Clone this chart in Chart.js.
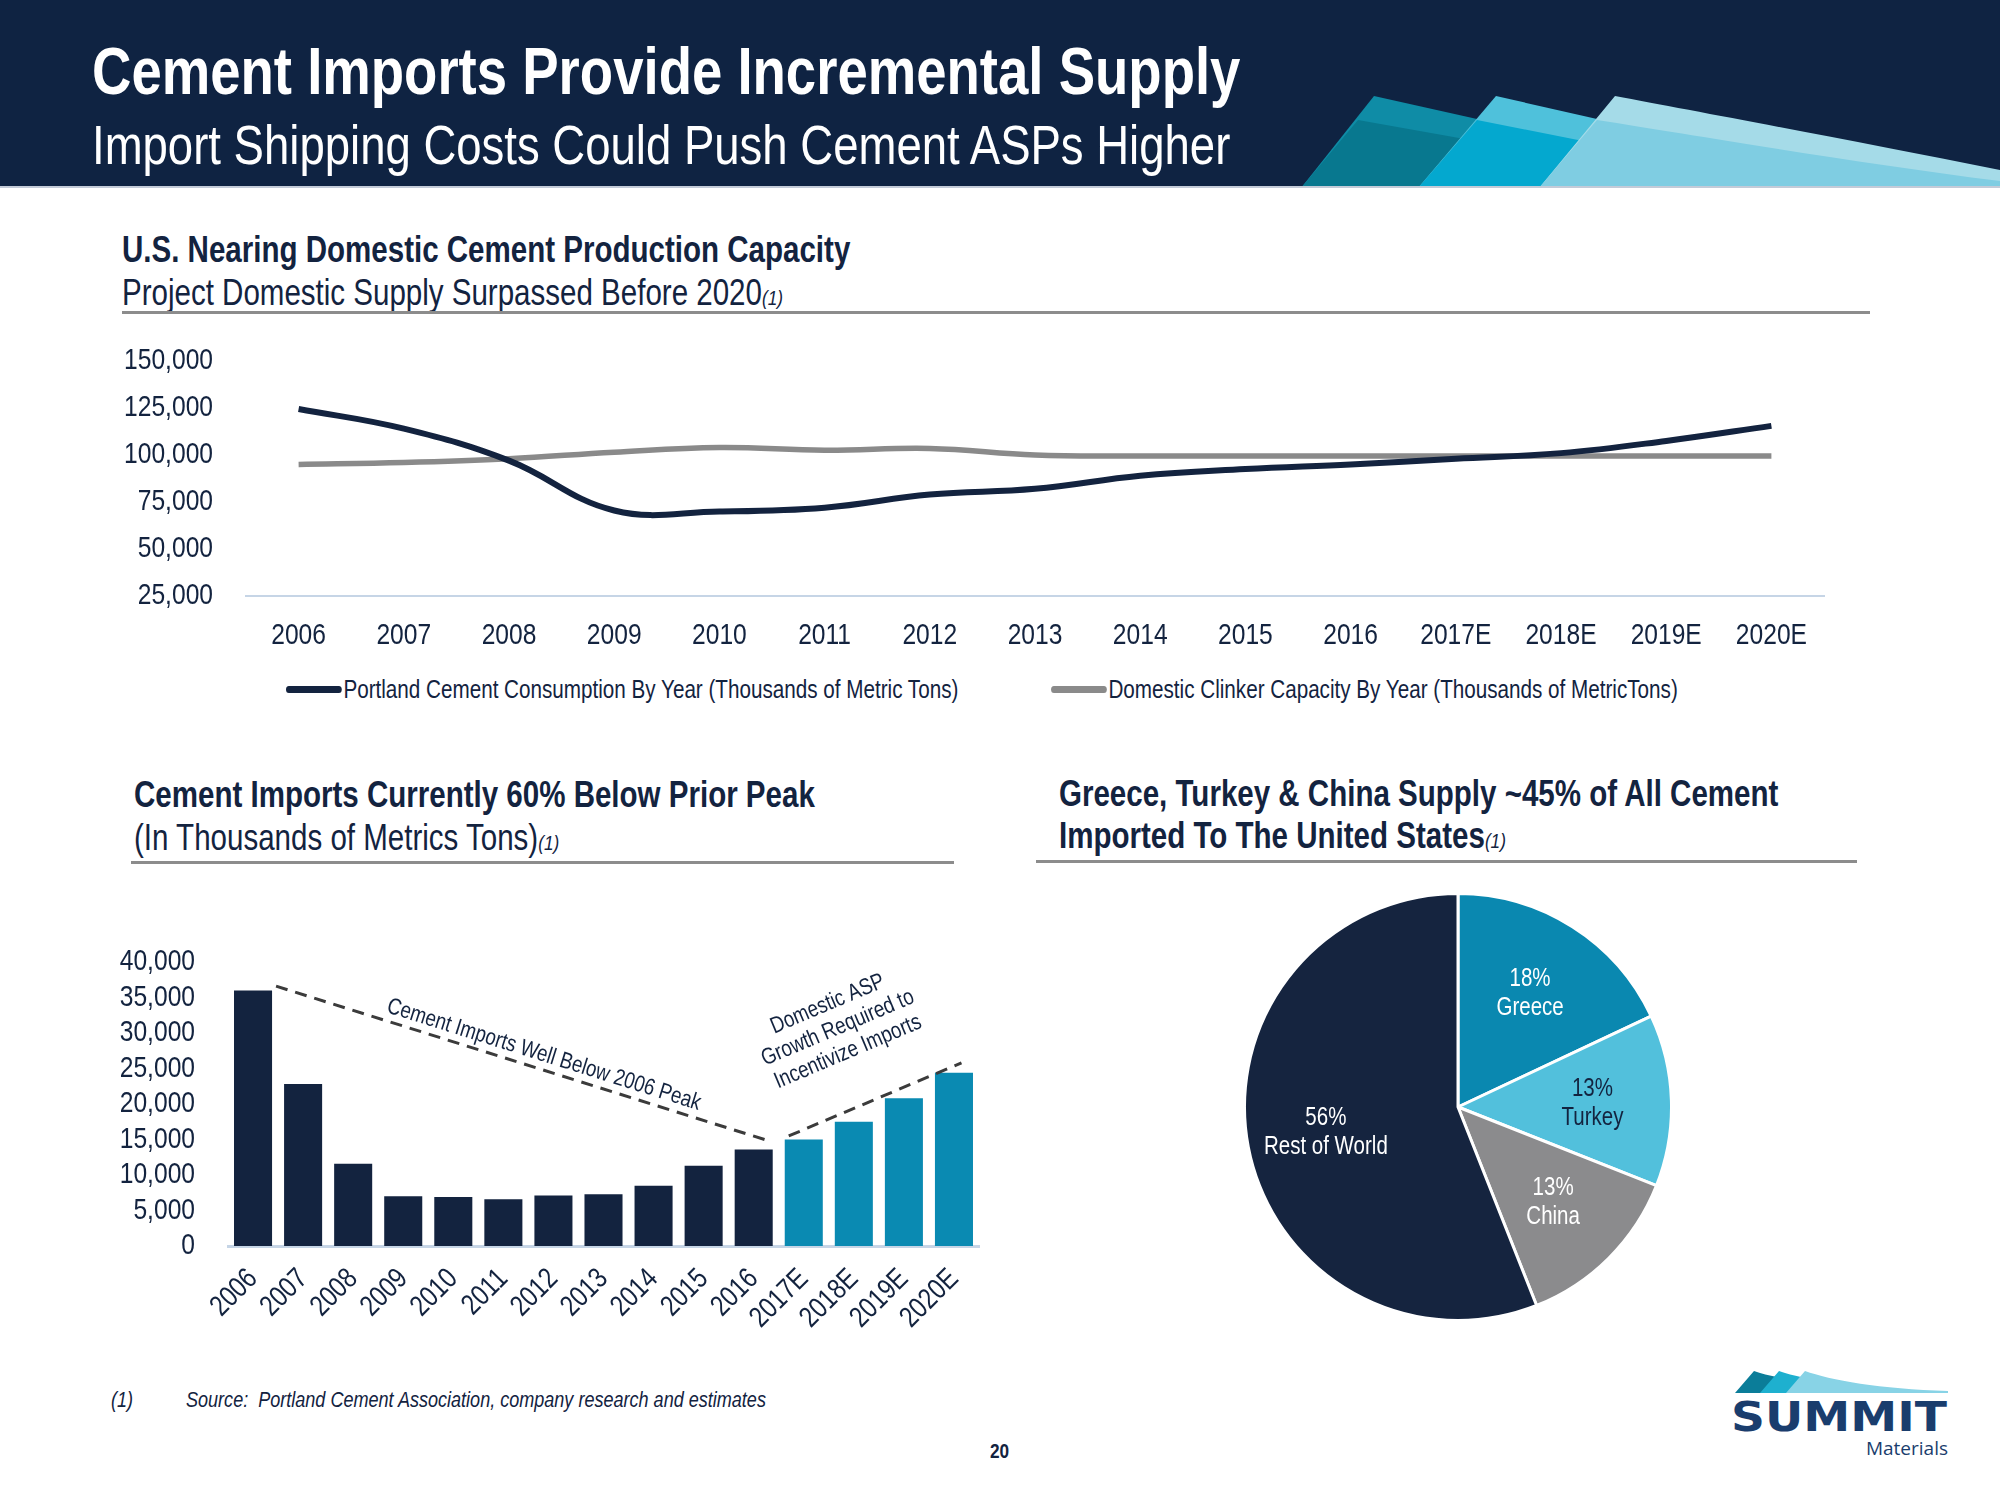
<!DOCTYPE html>
<html lang="en">
<head>
<meta charset="UTF-8">
<title>Cement Imports Provide Incremental Supply</title>
<script src="https://cdn.jsdelivr.net/npm/chart.js@4"></script>
<style>
  body {
    margin: 0;
    width: 2000px;
    height: 1500px;
    position: relative;
    overflow: hidden;
    background: #fff;
    font-family: "Liberation Sans", Arial, sans-serif;
    color: #13233f;
  }
  .abs { position: absolute; line-height: 1; white-space: nowrap; }
  /* no Arial Narrow installed: squeeze Liberation Sans to the same width */
  .nar { transform: scaleX(0.82); transform-origin: 0 0; }
  .header { position: absolute; left: 0; top: 0; width: 2000px; height: 188px; background: #0f2342; }
  .title { left: 92px; top: 38px; font-size: 66.5px; font-weight: bold; color: #fff; }
  .subtitle { left: 92px; top: 118px; font-size: 55.5px; color: #fff; }
  .sec-title { font-size: 36px; font-weight: bold; }
  .sec-sub { font-size: 36px; }
  .fn { font-size: 21px; font-style: italic; font-weight: normal; }
  .rule { position: absolute; height: 3px; background: #8c8c8c; }
  .box { position: absolute; }
  #lineLegend { position: absolute; left: 286px; top: 677px; display: flex; align-items: center; gap: 113px; font-size: 25.2px; line-height: 1; white-space: nowrap; transform: scaleX(0.82); transform-origin: 0 0; }
  #lineLegend .item { display: flex; align-items: center; }
  #lineLegend .swatch { display: inline-block; width: 68px; height: 7px; border-radius: 4px; margin-right: 2px; }
  .note { font-size: 22px; font-style: italic; }
</style>
</head>
<body>
  <div class="header"></div>
  <svg class="abs" style="left:0;top:0" width="2000" height="190">
    <path d="M1301,188 L1374,96 L1477,119 L1650,165 L1650,188 Z" fill="#0f8ca6"/>
    <path d="M1301,188 L1358,120 L1459,138 L1650,180 L1650,188 Z" fill="#08788f"/>
    <path d="M1418,188 L1496,96 L1597,119 L1760,160 L1760,188 Z" fill="#4fc1db"/>
    <path d="M1418,188 L1477,120 L1578,140 L1760,178 L1760,188 Z" fill="#04a8cf"/>
    <path d="M1539,188 L1615,96 C1700,112 1850,140 2000,170 L2000,188 Z" fill="#a5dbe8"/>
    <path d="M1539,188 L1597,120 C1700,136 1850,162 2000,181 L2000,188 Z" fill="#7fcde2"/>
    <rect x="0" y="186" width="2000" height="2" fill="#c3cbd8"/>
  </svg>
  <div class="abs nar title">Cement Imports Provide Incremental Supply</div>
  <div class="abs nar subtitle">Import Shipping Costs Could Push Cement ASPs Higher</div>

  <div class="abs nar sec-title" style="left:122px;top:232px">U.S. Nearing Domestic Cement Production Capacity</div>
  <div class="abs nar sec-sub" style="left:122px;top:275px">Project Domestic Supply Surpassed Before 2020<span class="fn">(1)</span></div>
  <div class="rule" style="left:122px;top:311px;width:1748px"></div>

  <div class="box" style="left:100px;top:310px;width:1780px;height:350px"><canvas id="lineChart"></canvas></div>
  <div id="lineLegend"></div>

  <div class="abs nar sec-title" style="left:134px;top:777px">Cement Imports Currently 60% Below Prior Peak</div>
  <div class="abs nar sec-sub" style="left:134px;top:820px">(In Thousands of Metrics Tons)<span class="fn">(1)</span></div>
  <div class="rule" style="left:131px;top:861px;width:823px"></div>

  <div class="abs nar sec-title" style="left:1059px;top:776px">Greece, Turkey &amp; China Supply ~45% of All Cement</div>
  <div class="abs nar sec-title" style="left:1059px;top:818px">Imported To The United States<span class="fn">(1)</span></div>
  <div class="rule" style="left:1036px;top:860px;width:821px"></div>

  <div class="box" style="left:80px;top:911px;width:920px;height:459px"><canvas id="barChart"></canvas></div>
  <div class="box" style="left:1243px;top:892px;width:430px;height:430px"><canvas id="pieChart"></canvas></div>

  <div class="abs nar note" style="left:111px;top:1389px">(1)</div>
  <div class="abs nar note" style="left:186px;top:1389px">Source:&nbsp; Portland Cement Association, company research and estimates</div>
  <div class="abs nar" style="left:990px;top:1440px;font-size:21px;font-weight:bold">20</div>

  <svg class="abs" style="left:1720px;top:1360px" width="240" height="40">
    <path d="M15,33 L34,11 C60,20 120,30 228,33 Z" fill="#0b7d99"/>
    <path d="M40,33 L59,11 C85,20 140,30 228,33 Z" fill="#1eb0cf"/>
    <path d="M66,33 L85,11 C110,20 160,29 228,31 L228,33 Z" fill="#88d3e6"/>
  </svg>
  <div class="abs" style="left:1731px;top:1397px;font-family:'DejaVu Sans',sans-serif;font-weight:bold;font-size:40px;color:#1a3d6d;transform:scaleX(1.18);transform-origin:left top">SUMMIT</div>
  <div class="abs" style="right:52px;top:1439px;font-family:'Open Sans',sans-serif;font-size:19px;color:#1a3d6d">Materials</div>

<script>
  const years = ['2006', '2007', '2008', '2009', '2010', '2011', '2012', '2013', '2014', '2015', '2016', '2017E', '2018E', '2019E', '2020E'];
  const consumption = [124500, 114000, 97000, 70500, 70000, 72000, 79000, 82000, 89000, 92500, 95000, 98000, 101000, 107500, 115500];
  const clinkerCapacity = [95000, 96000, 98000, 101500, 104000, 102500, 103500, 100000, 99500, 99500, 99500, 99500, 99500, 99500, 99500];
  const lineLabels = ['Portland Cement Consumption By Year (Thousands of Metric Tons)', 'Domestic Clinker Capacity By Year (Thousands of MetricTons)'];

  const cementImports = [36000, 22800, 11600, 7000, 6900, 6600, 7100, 7300, 8500, 11300, 13600, 15000, 17500, 20800, 24400];

  // dashed trend annotations, in data units: [category index, value]
  const trendLines = [[[0.46, 36600], [10.35, 14700]], [[10.7, 15500], [14.15, 25800]]];
  const trendNotes = [
    { text: ['Cement Imports Well Below 2006 Peak'], at: [5.81, 26900] },
    { text: ['Domestic ASP', 'Growth Required to', 'Incentivize Imports'], at: [11.68, 30700] }
  ];

  const supplyLabels = ['Greece', 'Turkey', 'China', 'Rest of World'];
  const supplyShares = [18, 13, 13, 56];

  const NAVY = '#13233f';
  const TEAL = '#0a8ab2';
  const FONT = '"Liberation Sans", Arial, sans-serif';
  const lineColors = [NAVY, '#8a8a8a'];
  const pieColors = ['#0a88b0', '#52c0dc', '#8b8b8d', '#15243f'];
  const pieTextColors = ['#ffffff', NAVY, '#ffffff', '#ffffff'];

  // canvas text gets the same narrow squeeze as the html text
  const NARROW = 0.82;
  const baseFillText = CanvasRenderingContext2D.prototype.fillText;
  CanvasRenderingContext2D.prototype.fillText = function (text, x, y) {
    this.save();
    this.translate(x, y);
    this.scale(NARROW, 1);
    baseFillText.call(this, text, 0, 0);
    this.restore();
  };

  Chart.defaults.font.family = FONT;
  Chart.defaults.color = NAVY;

  // line chart
  new Chart(document.getElementById('lineChart'), {
    type: 'line',
    data: {
      labels: years,
      datasets: [
        { label: lineLabels[0], data: consumption, borderColor: lineColors[0], borderWidth: 6, pointRadius: 0, tension: 0.4 },
        { label: lineLabels[1], data: clinkerCapacity, borderColor: lineColors[1], borderWidth: 5.5, pointRadius: 0, tension: 0.4 }
      ]
    },
    options: {
      responsive: true,
      maintainAspectRatio: false,
      animation: false,
      layout: { padding: { top: 0, right: 56, left: 0, bottom: 0 } },
      plugins: { legend: { display: false }, tooltip: { enabled: false } },
      scales: {
        x: {
          offset: true,
          grid: { display: false, drawTicks: false },
          border: { display: true, color: '#c6d5e6', width: 2 },
          ticks: { font: { size: 30 }, padding: 22, maxRotation: 0, autoSkip: false },
          afterFit: s => { s.height = 64; }
        },
        y: {
          min: 25000,
          max: 150000,
          grid: { display: false, drawTicks: false },
          border: { display: false },
          ticks: { stepSize: 25000, font: { size: 30 }, padding: 33, autoSkip: false },
          afterFit: s => { s.width = 146; }
        }
      }
    }
  });

  // html legend for the line chart
  const legendEl = document.getElementById('lineLegend');
  lineLabels.forEach((txt, i) => {
    const item = document.createElement('div');
    item.className = 'item';
    item.innerHTML = '<span class="swatch" style="background:' + lineColors[i] + '"></span><span>' + txt + '</span>';
    legendEl.appendChild(item);
  });

  const trendPlugin = {
    id: 'trendNotes',
    afterDatasetsDraw(chart) {
      const { ctx, scales: { x, y } } = chart;
      const px = trendLines.map(seg => seg.map(([i, v]) => [x.getPixelForValue(i), y.getPixelForValue(v)]));
      ctx.save();
      ctx.strokeStyle = '#3b3b3b';
      ctx.lineWidth = 3;
      ctx.setLineDash([12, 8]);
      px.forEach(seg => {
        ctx.beginPath();
        ctx.moveTo(seg[0][0], seg[0][1]);
        ctx.lineTo(seg[1][0], seg[1][1]);
        ctx.stroke();
      });
      ctx.setLineDash([]);
      ctx.fillStyle = NAVY;
      ctx.font = '23px ' + FONT;
      ctx.textAlign = 'center';
      ctx.textBaseline = 'middle';
      trendNotes.forEach((note, k) => {
        const seg = px[k];
        const ang = Math.atan2(seg[1][1] - seg[0][1], seg[1][0] - seg[0][0]);
        ctx.save();
        ctx.translate(x.getPixelForValue(note.at[0]), y.getPixelForValue(note.at[1]));
        ctx.rotate(ang);
        note.text.forEach((t, j) => ctx.fillText(t, 0, (j - (note.text.length - 1) / 2) * 26));
        ctx.restore();
      });
      ctx.restore();
    }
  };

  // bar chart
  new Chart(document.getElementById('barChart'), {
    type: 'bar',
    data: {
      labels: years,
      datasets: [{
        data: cementImports,
        backgroundColor: years.map(y => y.endsWith('E') ? TEAL : NAVY),
        barPercentage: 0.76,
        categoryPercentage: 1.0
      }]
    },
    options: {
      responsive: true,
      maintainAspectRatio: false,
      animation: false,
      layout: { padding: { top: 0, right: 21, left: 0, bottom: 0 } },
      plugins: { legend: { display: false }, tooltip: { enabled: false } },
      scales: {
        x: {
          grid: { display: false, drawTicks: false },
          border: { display: true, color: '#c6d5e6', width: 3 },
          ticks: { font: { size: 29 }, padding: 16, minRotation: 45, maxRotation: 45, autoSkip: false },
          afterFit: s => { s.height = 124; }
        },
        y: {
          min: 0,
          max: 40000,
          grid: { display: false, drawTicks: false },
          border: { display: false },
          ticks: { stepSize: 5000, font: { size: 30 }, padding: 33, autoSkip: false },
          afterFit: s => { s.width = 148; }
        }
      }
    },
    plugins: [trendPlugin]
  });

  const pieLabelPlugin = {
    id: 'pieLabels',
    afterDatasetsDraw(chart) {
      const { ctx } = chart;
      const meta = chart.getDatasetMeta(0);
      ctx.save();
      ctx.font = '25px ' + FONT;
      ctx.textAlign = 'center';
      ctx.textBaseline = 'middle';
      meta.data.forEach((arc, i) => {
        const { x, y, startAngle, endAngle, outerRadius } = arc.getProps(['x', 'y', 'startAngle', 'endAngle', 'outerRadius'], true);
        const mid = (startAngle + endAngle) / 2;
        const r = outerRadius * 0.63;
        const cx = x + Math.cos(mid) * r;
        const cy = y + Math.sin(mid) * r;
        ctx.fillStyle = pieTextColors[i];
        ctx.fillText(supplyShares[i] + '%', cx, cy - 14);
        ctx.fillText(supplyLabels[i], cx, cy + 15);
      });
      ctx.restore();
    }
  };

  // pie chart
  new Chart(document.getElementById('pieChart'), {
    type: 'pie',
    data: {
      labels: supplyLabels,
      datasets: [{ data: supplyShares, backgroundColor: pieColors, borderColor: '#ffffff', borderWidth: 3 }]
    },
    options: {
      responsive: true,
      maintainAspectRatio: false,
      animation: false,
      layout: { padding: 0 },
      plugins: { legend: { display: false }, tooltip: { enabled: false } }
    },
    plugins: [pieLabelPlugin]
  });
</script>
</body>
</html>
